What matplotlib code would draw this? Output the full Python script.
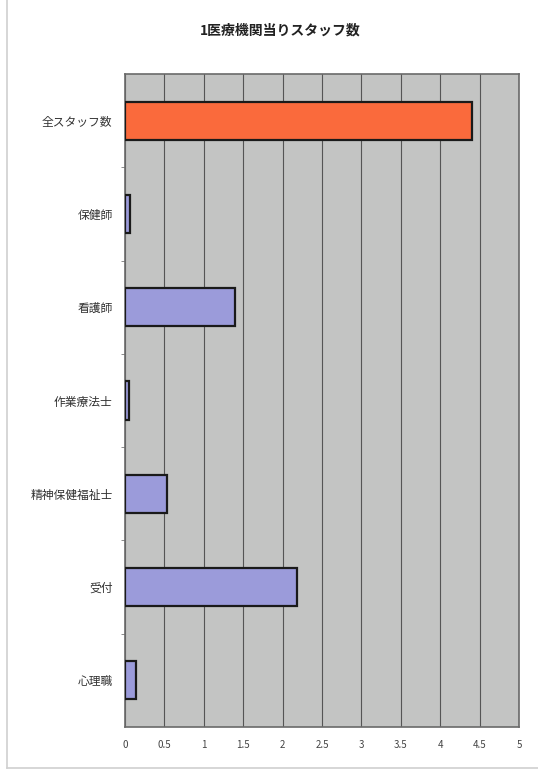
import matplotlib.pyplot as plt
from matplotlib.lines import Line2D

plt.rcParams["font.family"] = ["Noto Sans CJK JP", "DejaVu Sans"]

# Staff per medical institution, top to bottom
categories = ["全スタッフ数", "保健師", "看護師", "作業療法士", "精神保健福祉士", "受付", "心理職"]
values = [4.4, 0.06, 1.4, 0.05, 0.53, 2.18, 0.14]
bar_colors = ["#FA6A3C"] + ["#9B9BDA"] * 6
x_ticks = [0, 0.5, 1, 1.5, 2, 2.5, 3, 3.5, 4, 4.5, 5]
x_tick_labels = ["0", "0.5", "1", "1.5", "2", "2.5", "3", "3.5", "4", "4.5", "5"]

W, H = 538, 770
fig = plt.figure(figsize=(W / 100, H / 100), dpi=100)
fig.patch.set_facecolor("white")

left, top, right, bottom = 125, 74, 519, 727
ax = fig.add_axes([left / W, 1 - bottom / H, (right - left) / W, (bottom - top) / H])
ax.set_facecolor("#C3C4C3")

y_pos = list(range(len(categories)))
ax.barh(y_pos, values, height=0.41, color=bar_colors,
        edgecolor="#1a1a1a", linewidth=1.6, zorder=3)

ax.set_xlim(0, 5)
ax.set_ylim(len(categories) - 0.5, -0.5)
ax.set_xticks(x_ticks)
ax.set_xticklabels(x_tick_labels, fontsize=7, color="#444444")
ax.set_yticks(y_pos)
ax.set_yticklabels(categories, fontsize=8.5, color="#333333")
ax.set_yticks([i + 0.5 for i in range(len(categories) - 1)], minor=True)
ax.tick_params(axis="y", which="major", length=0, pad=9)
ax.tick_params(axis="y", which="minor", length=3, color="#777777", direction="out")
ax.tick_params(axis="x", length=0, pad=9)

ax.grid(axis="x", color="#555555", linewidth=0.8, zorder=1)
for spine in ax.spines.values():
    spine.set_color("#6a6a6a")
    spine.set_linewidth(1.2)

fig.text(0.52, 1 - 30 / H, "1医療機関当りスタッフ数", ha="center", va="center",
         fontsize=10, fontweight="bold", color="#222222")

# faint page frame on the left and bottom
fig.add_artist(Line2D([7 / W, 7 / W], [1 - 768 / H, 1.0], color="#d0d0d0", linewidth=1.2))
fig.add_artist(Line2D([7 / W, 1.0], [1 - 768 / H, 1 - 768 / H], color="#d0d0d0", linewidth=1.2))

fig.savefig("out.png", dpi=100)
